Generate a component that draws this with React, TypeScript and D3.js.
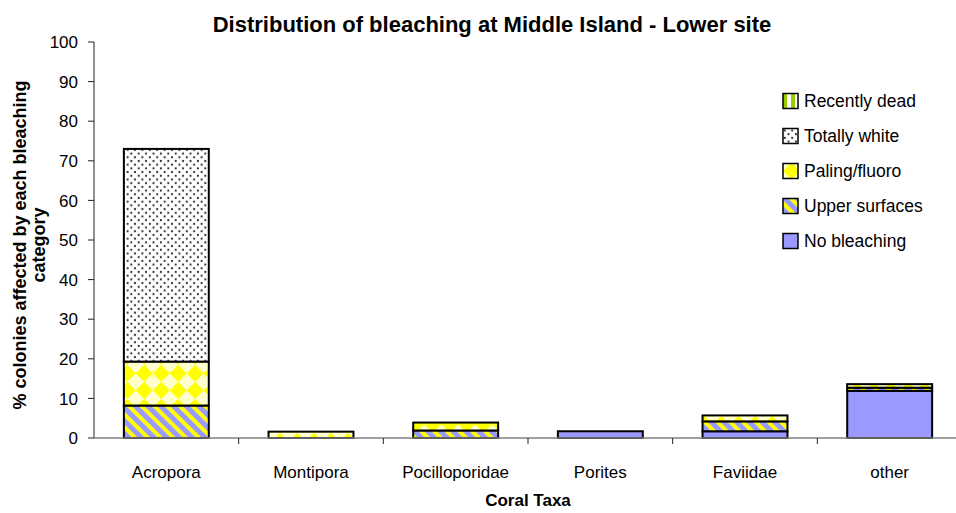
import React from 'react';
import * as d3 from 'd3';

const categories = ['Acropora', 'Montipora', 'Pocilloporidae', 'Porites', 'Faviidae', 'other'];
const seriesNames = ['No bleaching', 'Upper surfaces', 'Paling/fluoro', 'Totally white', 'Recently dead'];
const noBleaching = [0, 0, 0, 1.7, 1.7, 11.9];
const upperSurfaces = [8.2, 0, 1.9, 0, 2.5, 0.8];
const paling = [11.1, 1.6, 2.0, 0, 1.5, 0.9];
const totallyWhite = [53.7, 0, 0, 0, 0, 0];
const recentlyDead = [0, 0, 0, 0, 0, 0];
const yTicks = [0, 10, 20, 30, 40, 50, 60, 70, 80, 90, 100];

const fills: Record<string, string> = {
  'No bleaching': '#9999ff',
  'Upper surfaces': 'url(#upper)',
  'Paling/fluoro': 'url(#paling)',
  'Totally white': 'url(#white)',
  'Recently dead': 'url(#dead)',
};

export default function App() {
  const W = 956;
  const H = 513;
  const left = 94;
  const right = 962;
  const top = 42;
  const bottom = 438;

  const rows = categories.map((c, i) => ({
    cat: c,
    'No bleaching': noBleaching[i],
    'Upper surfaces': upperSurfaces[i],
    'Paling/fluoro': paling[i],
    'Totally white': totallyWhite[i],
    'Recently dead': recentlyDead[i],
  }));
  const stacked = d3.stack<any>().keys(seriesNames)(rows);

  const x = d3.scaleBand().domain(categories).range([left, right]).paddingInner(0.413).paddingOuter(0.2065);
  const y = d3.scaleLinear().domain([0, 100]).range([bottom, top]);
  const step = x.step();

  const font = 'Arial, "Liberation Sans", sans-serif';

  return (
    <svg width={W} height={H} style={{ position: 'absolute', left: 0, top: 0 }} fontFamily={font}>
      <defs>
        <pattern id="upper" patternUnits="userSpaceOnUse" width="9" height="9" patternTransform="rotate(-45)">
          <rect width="9" height="9" fill="#9999ff" />
          <rect width="4" height="9" fill="#ffff00" />
        </pattern>
        <pattern id="paling" patternUnits="userSpaceOnUse" width="24" height="24" patternTransform="rotate(45)">
          <rect width="24" height="24" fill="#ffff00" />
          <rect width="12" height="12" fill="#ffffcc" />
          <rect x="12" y="12" width="12" height="12" fill="#ffffcc" />
        </pattern>
        <pattern id="white" patternUnits="userSpaceOnUse" width="7.4" height="7.4">
          <rect width="7.4" height="7.4" fill="#ffffff" />
          <circle cx="1.8" cy="1.8" r="1.1" fill="#333" />
          <circle cx="5.5" cy="5.5" r="1.1" fill="#333" />
        </pattern>
        <pattern id="dead" patternUnits="userSpaceOnUse" width="8" height="8">
          <rect width="8" height="8" fill="#ffffff" />
          <rect width="4" height="8" fill="#99cc00" />
        </pattern>
      </defs>

      <text x={492} y={32} textAnchor="middle" fontSize={22} fontWeight="bold">
        Distribution of bleaching at Middle Island - Lower site
      </text>

      {/* y axis */}
      <line x1={left} x2={left} y1={top} y2={bottom} stroke="#222" />
      {yTicks.map((t) => (
        <g key={t}>
          <line x1={left - 6} x2={left} y1={y(t)} y2={y(t)} stroke="#222" />
          <text x={78} y={y(t)} dy="0.36em" textAnchor="end" fontSize={17}>
            {t}
          </text>
        </g>
      ))}
      <text transform="translate(20,245) rotate(-90)" textAnchor="middle" fontSize={18} fontWeight="bold" dy="0.35em">
        % colonies affected by each bleaching
      </text>
      <text transform="translate(39,245) rotate(-90)" textAnchor="middle" fontSize={18} fontWeight="bold" dy="0.35em">
        category
      </text>

      {/* bars */}
      {stacked.map((s) => (
        <g key={s.key} fill={fills[s.key]}>
          {s.map((d, i) =>
            d[1] - d[0] > 0 ? (
              <rect
                key={i}
                x={x(categories[i])}
                y={y(d[1])}
                width={x.bandwidth()}
                height={y(d[0]) - y(d[1])}
                stroke="#000"
                strokeWidth={2}
              />
            ) : null
          )}
        </g>
      ))}

      {/* x axis */}
      <line x1={left} x2={right} y1={bottom} y2={bottom} stroke="#808080" strokeWidth={1.5} />
      {categories.map((c, i) => (
        <g key={c}>
          <line x1={left + step * (i + 1)} x2={left + step * (i + 1)} y1={bottom} y2={bottom + 6} stroke="#222" />
          <text x={(x(c) as number) + x.bandwidth() / 2} y={478} textAnchor="middle" fontSize={17}>
            {c}
          </text>
        </g>
      ))}
      <text x={528} y={506} textAnchor="middle" fontSize={17} fontWeight="bold">
        Coral Taxa
      </text>

      {/* legend */}
      {seriesNames
        .slice()
        .reverse()
        .map((n, i) => (
          <g key={n} transform={`translate(783,${101 + i * 35})`}>
            <rect x={0} y={-7.5} width={15} height={15} fill={fills[n]} stroke="#000" strokeWidth={1.5} />
            <text x={21} y={0} dy="0.35em" fontSize={17.5}>
              {n}
            </text>
          </g>
        ))}
    </svg>
  );
}
